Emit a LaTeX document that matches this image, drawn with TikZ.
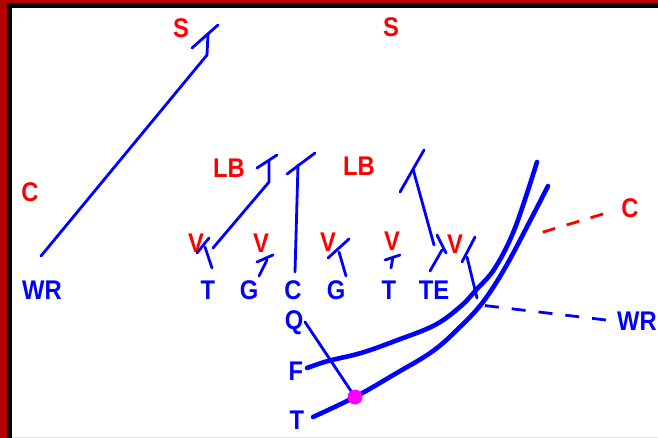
\documentclass[tikz,border=0pt]{standalone}
\usepackage{fontspec}
\setmainfont{Liberation Sans}
\usepackage{graphicx}
\definecolor{framered}{RGB}{180,0,0}
\definecolor{pblue}{RGB}{0,0,255}
\definecolor{pred}{RGB}{255,0,0}
\definecolor{pmag}{RGB}{255,0,255}
\newcommand{\plbl}[1]{\scalebox{0.88}[1]{#1}}
\begin{document}
\begin{tikzpicture}[x=1pt,y=-1pt,
  lab/.style={inner sep=0pt, font=\fontsize{27}{27}\selectfont\bfseries},
  deflab/.style={lab, text=pred},
  offlab/.style={lab, text=pblue},
  route/.style={draw=pblue, line width=2.8pt, line cap=round, line join=round},
  runpath/.style={draw=pblue, line width=4.6pt, line cap=round, line join=round},
  dashroute/.style={route, line cap=butt, dash pattern=on 14pt off 13pt},
  reddash/.style={draw=pred, line width=2.8pt, dash pattern=on 13pt off 12pt}
]
\useasboundingbox (0,0) rectangle (658,438);
% frame
\fill[white] (0,0) rectangle (658,438);
\fill[framered] (0,0) rectangle (7,438);
\fill[framered] (0,0) rectangle (658,3.5);
\fill[black] (7,3.5) rectangle (12,438);
\fill[black] (7,3.5) rectangle (658,7.7);
\fill[black!12] (12,436.5) rectangle (658,438);

% defense labels
\node[deflab] (sL) at (181,28) {\plbl{S}};
\node[deflab] (sR) at (391,27) {\plbl{S}};
\node[deflab] (cL) at (30,192) {\plbl{C}};
\node[deflab] (lbL) at (229,168) {\plbl{LB}};
\node[deflab] (lbR) at (359,166) {\plbl{LB}};
\node[deflab] (cR) at (630,208) {\plbl{C}};
\node[deflab] (v1) at (196,243) {\plbl{V}};
\node[deflab] (v2) at (261,243) {\plbl{V}};
\node[deflab] (v3) at (328,242) {\plbl{V}};
\node[deflab] (v4) at (392,241) {\plbl{V}};
\node[deflab] (v5) at (455,244) {\plbl{V}};

% offense labels
\node[offlab] (wrL) at (42,290) {\plbl{WR}};
\node[offlab] (tL) at (208,290) {\plbl{T}};
\node[offlab] (gL) at (249,290) {\plbl{G}};
\node[offlab] (cO) at (293,290) {\plbl{C}};
\node[offlab] (gR) at (336,290) {\plbl{G}};
\node[offlab] (tR) at (389,290) {\plbl{T}};
\node[offlab] (te) at (434,290) {\plbl{TE}};
\node[offlab] (wrR) at (637,321) {\plbl{WR}};
\node[offlab] (qb) at (294,323) {\plbl{Q}};
\node[offlab] (fb) at (296,371) {\plbl{F}};
\node[offlab] (tb) at (297,420) {\plbl{T}};

% route points
\coordinate (wl0) at (41,256);  \coordinate (wl1) at (207,55);  \coordinate (wl2) at (208,34);
\coordinate (wlb1) at (192,48); \coordinate (wlb2) at (218,25);
\coordinate (tl0) at (212,268); \coordinate (tl1) at (205,247);
\coordinate (tlb1) at (197,253); \coordinate (tlb2) at (209,238);
\coordinate (tm0) at (213,248); \coordinate (tm1) at (269,182); \coordinate (tm2) at (269,161);
\coordinate (tmb1) at (257,168); \coordinate (tmb2) at (277,155);
\coordinate (c0) at (295,272); \coordinate (c1) at (298,165);
\coordinate (cb1) at (287,174); \coordinate (cb2) at (315,153);
\coordinate (gl0) at (259,276); \coordinate (gl1) at (267,260);
\coordinate (glb1) at (257,262); \coordinate (glb2) at (273,255);
\coordinate (gr0) at (346,276); \coordinate (gr1) at (339,252);
\coordinate (grb1) at (328,258); \coordinate (grb2) at (349,239);
\coordinate (tr0) at (391,268); \coordinate (tr1) at (393,257);
\coordinate (trb1) at (385,260); \coordinate (trb2) at (400,255);
\coordinate (te0) at (430,271); \coordinate (te1) at (442,250);
\coordinate (teb1) at (437,235); \coordinate (teb2) at (446,253);
\coordinate (lr0) at (434,245); \coordinate (lr1) at (413,169);
\coordinate (lrb1) at (400,192); \coordinate (lrb2) at (424,150);
\coordinate (vr0) at (477,298); \coordinate (vr1) at (467,257);
\coordinate (vrb1) at (462,262); \coordinate (vrb2) at (475,237);
\coordinate (wr0) at (606,320); \coordinate (wr1) at (480,305);
\coordinate (cr0) at (603,214); \coordinate (cr1) at (540,233);
\coordinate (q0) at (305,322); \coordinate (hand) at (355,397);
\coordinate (f0) at (307,368); \coordinate (f9) at (537,162);
\coordinate (t0) at (313,417); \coordinate (t9) at (548,186);

% blocks and routes
\draw[route] (wl0) -- (wl1) -- (wl2);
\draw[route] (wlb1) -- (wlb2);
\draw[route] (tl0) -- (tl1);
\draw[route] (tlb1) -- (tlb2);
\draw[route] (tm0) -- (tm1) -- (tm2);
\draw[route] (tmb1) -- (tmb2);
\draw[route] (c0) -- (c1);
\draw[route] (cb1) -- (cb2);
\draw[route] (gl0) -- (gl1);
\draw[route] (glb1) -- (glb2);
\draw[route] (gr0) -- (gr1);
\draw[route] (grb1) -- (grb2);
\draw[route] (tr0) -- (tr1);
\draw[route] (trb1) -- (trb2);
\draw[route] (te0) -- (te1);
\draw[route] (teb1) -- (teb2);
\draw[route] (lr0) -- (lr1);
\draw[route] (lrb1) -- (lrb2);
\draw[route] (vr0) -- (vr1);
\draw[route] (vrb1) -- (vrb2);
\draw[dashroute] (wr0) -- (wr1);
\draw[reddash] (cr0) -- (cr1);
\draw[route] (q0) -- (hand);

% running paths
\draw[runpath] plot[smooth, tension=0.6] coordinates {(f0) (328,361) (361,353) (395,341) (435,325) (461,306) (476,290) (495,268) (515,228) (f9)};
\draw[runpath] plot[smooth, tension=0.6] coordinates {(t0) (355,397) (395,374) (433,351) (461,326) (483,302) (505,268) (530,221) (t9)};
\fill[pmag] (hand) circle (7.5);
\end{tikzpicture}
\end{document}
